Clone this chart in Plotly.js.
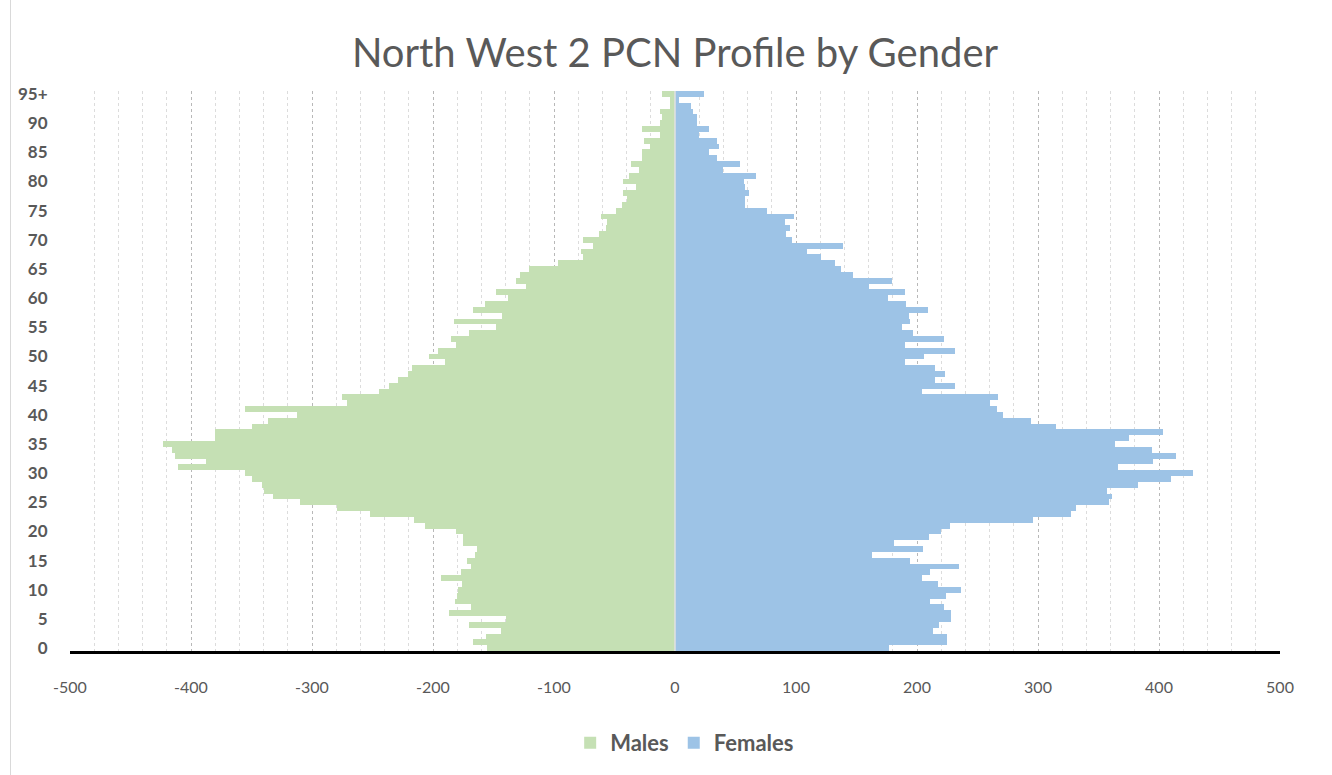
<!DOCTYPE html>
<html>
<head>
<meta charset="utf-8">
<script src="https://cdn.plot.ly/plotly-3.0.1.min.js"></script>
<style>
  html, body { margin: 0; padding: 0; background: #ffffff; }
  #chart { width: 1332px; height: 775px; }
  #frame { position: absolute; left: 10px; top: 0; width: 1px; height: 775px; background: #d9d9d9; }
</style>
</head>
<body>
<div id="chart"></div>
<div id="frame"></div>
<script>
// Age bands (categories), bottom to top
const ages = ["0","1","2","3","4","5","6","7","8","9",
  "10","11","12","13","14","15","16","17","18","19",
  "20","21","22","23","24","25","26","27","28","29",
  "30","31","32","33","34","35","36","37","38","39",
  "40","41","42","43","44","45","46","47","48","49",
  "50","51","52","53","54","55","56","57","58","59",
  "60","61","62","63","64","65","66","67","68","69",
  "70","71","72","73","74","75","76","77","78","79",
  "80","81","82","83","84","85","86","87","88","89",
  "90","91","92","93","94","95+"];

// Males (plotted to the left, negative)
const males = [-155,-167,-156,-144,-170,-140,-187,-169,-182,-180,
  -179,-176,-193,-177,-169,-172,-165,-164,-175,-175,
  -181,-207,-216,-252,-279,-310,-332,-340,-341,-350,
  -355,-411,-388,-413,-416,-423,-380,-380,-350,-336,
  -312,-355,-271,-275,-245,-236,-229,-221,-217,-190,
  -203,-196,-181,-185,-170,-148,-183,-143,-167,-157,
  -138,-148,-123,-131,-128,-121,-97,-76,-78,-68,
  -76,-63,-57,-56,-61,-49,-44,-40,-43,-32,
  -43,-38,-30,-36,-27,-27,-21,-26,-12,-27,
  -12,-11,-12,-4,-4,-11];

// Females (plotted to the right, positive)
const females = [177,225,225,213,218,228,228,222,211,224,
  236,217,204,211,235,194,163,205,181,210,
  220,227,296,327,331,359,361,357,383,410,
  428,366,395,414,394,364,375,403,315,294,
  271,266,260,267,204,231,215,223,215,190,
  206,231,190,222,197,188,194,193,209,191,
  176,190,160,179,147,137,132,121,109,139,
  97,92,95,91,98,76,58,58,61,58,
  57,67,40,54,35,28,36,35,20,28,
  18,18,15,13,3,24];

const yTicks = ["0","5","10","15","20","25","30","35","40","45",
  "50","55","60","65","70","75","80","85","90","95+"];
const xTicks = [-500,-400,-300,-200,-100,0,100,200,300,400,500];

const grey = '#595959';

const traces = [
  {
    type: 'bar', orientation: 'h', name: 'Males',
    y: ages, x: males,
    marker: { color: '#C5E0B4', line: { width: 0 } },
    hoverinfo: 'y+x'
  },
  {
    type: 'bar', orientation: 'h', name: 'Females',
    y: ages, x: females,
    marker: { color: '#9DC3E6', line: { width: 0 } },
    hoverinfo: 'y+x'
  }
];

const layout = {
  width: 1332, height: 775,
  margin: { l: 70, r: 52, t: 91, b: 123 },
  paper_bgcolor: '#ffffff',
  plot_bgcolor: '#ffffff',
  barmode: 'overlay',
  bargap: 0,
  font: { family: 'Lato, "Open Sans", sans-serif', color: grey },
  title: {
    text: 'North West 2 PCN Profile by Gender',
    font: { family: 'Lato, "Open Sans", sans-serif', size: 40, color: grey },
    x: 0.5, xref: 'paper', xanchor: 'center',
    y: 0.931, yref: 'container', yanchor: 'middle'
  },
  xaxis: {
    range: [-500, 500],
    tickvals: xTicks,
    ticktext: xTicks.map(String),
    tickfont: { size: 16, color: grey },
    ticks: 'outside', ticklen: 20, tickcolor: 'rgba(0,0,0,0)',
    showgrid: true, gridcolor: '#b8b8b8', griddash: 'dot', gridwidth: 1,
    minor: { dtick: 20, tick0: 0, showgrid: true, gridcolor: '#dcdcdc', griddash: 'dot', gridwidth: 1 },
    zeroline: false,
    showline: true, linecolor: '#000000', linewidth: 2.5,
    fixedrange: true
  },
  yaxis: {
    type: 'category',
    categoryorder: 'array', categoryarray: ages,
    range: [-0.5, 95.5],
    tickvals: yTicks, ticktext: yTicks,
    tickfont: { size: 17, color: grey, weight: 'bold' },
    ticks: 'outside', ticklen: 18, tickcolor: 'rgba(0,0,0,0)',
    showgrid: false, zeroline: false, showline: false,
    fixedrange: true
  },
  shapes: [
    { type: 'line', xref: 'x', yref: 'paper', x0: 0, x1: 0, y0: 0, y1: 1,
      line: { color: '#e2e2e2', width: 1.5 }, layer: 'above' }
  ],
  legend: {
    orientation: 'h',
    x: 0.508, xanchor: 'center',
    y: -0.162, yanchor: 'middle',
    font: { size: 22, color: grey, weight: 'bold' },
    traceorder: 'normal'
  },
  showlegend: true
};

Plotly.newPlot('chart', traces, layout, { displayModeBar: false, staticPlot: true });
</script>
</body>
</html>
